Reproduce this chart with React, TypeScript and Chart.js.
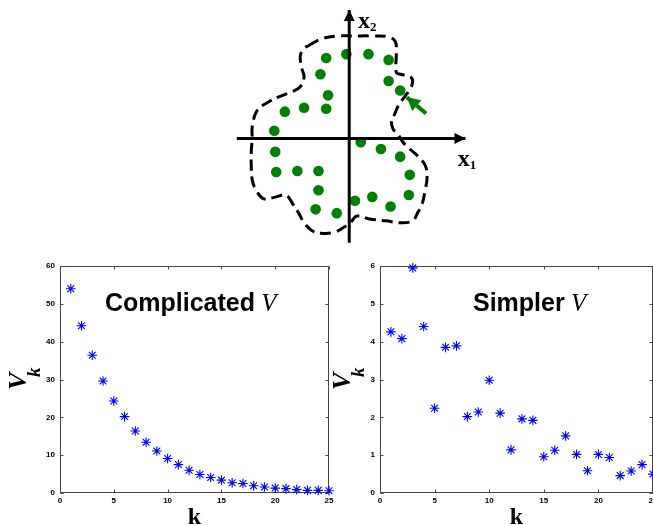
import React, { useEffect, useRef } from "react";
import { Chart, registerables } from "chart.js";

Chart.register(...registerables);

// ---------- data ----------
const kValues = [1, 2, 3, 4, 5, 6, 7, 8, 9, 10, 11, 12, 13, 14, 15, 16, 17, 18, 19, 20, 21, 22, 23, 24, 25];
const complicatedV = [54.0, 44.2, 36.4, 29.6, 24.3, 20.2, 16.4, 13.4, 11.1, 9.1, 7.5, 6.0, 4.9, 4.1, 3.4, 2.7, 2.5, 1.9, 1.6, 1.3, 1.15, 0.9, 0.7, 0.7, 0.6];
const simplerV = [4.26, 4.08, 5.95, 4.4, 2.24, 3.85, 3.89, 2.02, 2.14, 2.98, 2.11, 1.14, 1.96, 1.92, 0.96, 1.13, 1.51, 1.02, 0.59, 1.02, 0.94, 0.46, 0.58, 0.75, 0.5];
const kTicks = [0, 5, 10, 15, 20, 25];
const complicatedTicks = [0, 10, 20, 30, 40, 50, 60];
const simplerTicks = [0, 1, 2, 3, 4, 5, 6];

// top diagram (abstract x1/x2 plane)
const sampleX1 = [-2.4, -0.3, 2.0, 4.1, -3.0, 4.1, 5.3, -2.2, -6.7, -4.7, -2.4, -7.8, 1.2, 3.3, 5.3, -7.7, -7.6, -5.4, -3.2, -3.2, 6.3, 6.2, 2.4, 0.6, 4.3, -3.5, -1.3];
const sampleX2 = [8.4, 8.8, 8.8, 8.2, 6.7, 6.0, 5.0, 4.5, 2.8, 3.2, 3.1, 0.8, -0.4, -1.1, -1.9, -1.4, -3.5, -3.4, -3.4, -5.4, -3.8, -5.9, -6.1, -6.5, -7.1, -7.4, -7.8];
const boundaryX1 = [-4.2, -2.9, -1.2, 0.4, 2.4, 4.1, 4.8, 4.9, 4.9, 5.4, 6.4, 6.6, 6.3, 5.8, 5.1, 4.8, 4.4, 4.6, 4.9, 5.6, 6.3, 7.1, 7.9, 8.1, 7.9, 7.6, 7.1, 6.6, 5.4, 3.8, 2.1, 0.8, 0.1, -0.6, -1.6, -2.9, -3.9, -4.7, -5.2, -5.9, -6.6, -7.6, -8.9, -9.7, -10.1, -10.2, -10.2, -10.1, -10.1, -9.6, -8.6, -7.2, -5.9, -5.1, -4.7, -4.9, -5.1, -4.7, -4.2];
const boundaryX2 = [9.7, 10.4, 10.7, 10.7, 10.7, 10.6, 10.1, 8.9, 6.9, 6.7, 6.4, 5.9, 5.1, 4.4, 3.4, 2.7, 1.7, 0.9, 0.7, -0.4, -1.1, -1.8, -2.8, -4.1, -5.4, -6.8, -7.8, -8.6, -8.8, -8.6, -8.4, -8.1, -8.8, -9.3, -9.8, -9.9, -9.6, -8.8, -7.9, -6.8, -5.9, -6.1, -6.3, -5.4, -4.3, -2.8, -1.4, 0.0, 1.2, 2.9, 3.7, 4.4, 4.9, 5.4, 6.4, 7.2, 8.6, 9.4, 9.7];
const axisX1 = [-11.7, 12.1];
const axisX2 = [-10.9, 13.4];
const pointerFrom = [8.0, 2.6];
const pointerTo = [6.0, 4.3];
const axisLabels = [
  { main: "x", sub: "2", x1: 0.9, x2: 11.5 },
  { main: "x", sub: "1", x1: 11.3, x2: -2.9 },
];

const SANS = '"Liberation Sans", Arial, sans-serif';
const SERIF = '"Liberation Serif", "Times New Roman", serif';

// ---------- plugins ----------
const panelPlugin = {
  id: "panel",
  beforeDatasetsDraw(chart: any) {
    const { ctx, chartArea: a, scales } = chart;
    ctx.save();
    ctx.strokeStyle = "#444";
    ctx.lineWidth = 1;
    const L = Math.round(a.left) + 0.5;
    const R = Math.round(a.right) - 0.5;
    const T = Math.round(a.top) + 0.5;
    const B = Math.round(a.bottom) - 0.5;
    ctx.strokeRect(L, T, R - L, B - T);
    ctx.beginPath();
    scales.x.ticks.forEach((t: any) => {
      const x = Math.round(scales.x.getPixelForValue(t.value)) + 0.5;
      ctx.moveTo(x, B); ctx.lineTo(x, B - 3);
      ctx.moveTo(x, T); ctx.lineTo(x, T + 3);
    });
    scales.y.ticks.forEach((t: any) => {
      const y = Math.round(scales.y.getPixelForValue(t.value)) + 0.5;
      ctx.moveTo(L, y); ctx.lineTo(L + 3, y);
      ctx.moveTo(R, y); ctx.lineTo(R - 3, y);
    });
    ctx.stroke();
    ctx.restore();
  },
  afterDraw(chart: any, _a: any, opts: any) {
    const { ctx, chartArea: a } = chart;
    ctx.save();
    ctx.fillStyle = "#000";
    ctx.textBaseline = "alphabetic";
    ctx.textAlign = "left";
    // title inside the axes
    let x = a.left + opts.titleDx;
    const y = a.top + opts.titleDy;
    ctx.font = `bold 25px ${SANS}`;
    ctx.fillText(opts.titleText, x, y);
    x += ctx.measureText(opts.titleText).width;
    ctx.font = `italic 25px ${SERIF}`;
    ctx.fillText(" V", x, y);
    // y label V_k (rotated)
    ctx.save();
    ctx.translate(a.left + opts.ylabelDx, a.top + 124);
    ctx.rotate(-Math.PI / 2);
    ctx.font = `bold italic 26px ${SERIF}`;
    ctx.fillText("V", 0, 0);
    ctx.font = `bold italic 19px ${SERIF}`;
    ctx.fillText("k", 13, 14);
    ctx.restore();
    // x label
    ctx.font = `bold 24px ${SERIF}`;
    ctx.textAlign = "center";
    ctx.fillText("k", (a.left + a.right) / 2, a.bottom + 31);
    ctx.restore();
  },
};

const diagramPlugin = {
  id: "diagram",
  afterDatasetsDraw(chart: any) {
    const { ctx, scales } = chart;
    ctx.save();
    chart.data.datasets.forEach((ds: any, i: number) => {
      if (!ds.arrowHead) return;
      const pts = chart.getDatasetMeta(i).data;
      const p1 = pts[pts.length - 2];
      const p2 = pts[pts.length - 1];
      const ang = Math.atan2(p2.y - p1.y, p2.x - p1.x);
      const { len, half } = ds.arrowHead;
      ctx.fillStyle = ds.borderColor;
      ctx.beginPath();
      ctx.moveTo(p2.x, p2.y);
      ctx.lineTo(p2.x - len * Math.cos(ang) + half * Math.sin(ang), p2.y - len * Math.sin(ang) - half * Math.cos(ang));
      ctx.lineTo(p2.x - len * Math.cos(ang) - half * Math.sin(ang), p2.y - len * Math.sin(ang) + half * Math.cos(ang));
      ctx.closePath();
      ctx.fill();
    });
    ctx.fillStyle = "#000";
    ctx.textBaseline = "alphabetic";
    ctx.textAlign = "left";
    axisLabels.forEach((l) => {
      const px = scales.x.getPixelForValue(l.x1);
      const py = scales.y.getPixelForValue(l.x2);
      ctx.font = `bold 24px ${SERIF}`;
      ctx.fillText(l.main, px, py);
      const w = ctx.measureText(l.main).width;
      ctx.font = `bold 13px ${SERIF}`;
      ctx.fillText(l.sub, px + w, py + 3);
    });
    ctx.restore();
  },
};

// ---------- components ----------
function Diagram() {
  const ref = useRef<HTMLCanvasElement | null>(null);
  useEffect(() => {
    const samples = sampleX1.map((v, i) => ({ x: v, y: sampleX2[i] }));
    const boundary = boundaryX1.map((v, i) => ({ x: v, y: boundaryX2[i] }));
    const chart = new Chart(ref.current!, {
      type: "scatter",
      data: {
        datasets: [
          {
            label: "boundary",
            data: boundary,
            showLine: true,
            borderColor: "#000",
            borderWidth: 3,
            borderDash: [11, 6],
            pointRadius: 0,
            tension: 0.4,
            fill: false,
          } as any,
          {
            label: "x1 axis",
            data: [{ x: axisX1[0], y: 0 }, { x: axisX1[1], y: 0 }],
            showLine: true,
            borderColor: "#000",
            borderWidth: 3,
            pointRadius: 0,
            arrowHead: { len: 11, half: 5.5 },
          } as any,
          {
            label: "x2 axis",
            data: [{ x: 0, y: axisX2[0] }, { x: 0, y: axisX2[1] }],
            showLine: true,
            borderColor: "#000",
            borderWidth: 3,
            pointRadius: 0,
            arrowHead: { len: 11, half: 5.5 },
          } as any,
          {
            label: "pointer",
            data: [{ x: pointerFrom[0], y: pointerFrom[1] }, { x: pointerTo[0], y: pointerTo[1] }],
            showLine: true,
            borderColor: "#008000",
            borderWidth: 4,
            pointRadius: 0,
            arrowHead: { len: 13, half: 7 },
          } as any,
          {
            label: "samples",
            data: samples,
            showLine: false,
            pointRadius: 5.3,
            pointBackgroundColor: "#008000",
            pointBorderWidth: 0,
            borderColor: "#008000",
          } as any,
        ],
      },
      options: {
        animation: false,
        responsive: false,
        devicePixelRatio: 1,
        layout: { padding: 0 },
        plugins: { legend: { display: false }, tooltip: { enabled: false } },
        scales: {
          x: { type: "linear", display: false, min: -12.9, max: 14.1 },
          y: { type: "linear", display: false, min: -11.3, max: 13.9 },
        },
      },
      plugins: [diagramPlugin],
    } as any);
    return () => chart.destroy();
  }, []);
  return (
    <canvas
      ref={ref}
      width={270}
      height={252}
      style={{ position: "absolute", left: 220, top: 0, width: 270, height: 252 }}
    />
  );
}

type PanelProps = {
  left: number;
  areaLeft: number;
  areaWidth: number;
  values: number[];
  yTicks: number[];
  title: string;
  titleDx: number;
  ylabelDx: number;
};

function Panel(p: PanelProps) {
  const ref = useRef<HTMLCanvasElement | null>(null);
  const W = 345;
  const H = 300;
  const areaTop = 16;
  const areaBottom = 243;
  const areaRight = p.areaLeft + p.areaWidth;
  useEffect(() => {
    const tickFont = { family: SANS, size: 8, weight: "bold" as const };
    const chart = new Chart(ref.current!, {
      type: "scatter",
      data: {
        datasets: [
          {
            label: "V",
            data: kValues.map((k, i) => ({ x: k, y: p.values[i] })),
            pointStyle: "star",
            pointRadius: 4.8,
            borderColor: "#0000ff",
            borderWidth: 1.1,
            backgroundColor: "#0000ff",
            clip: false,
          } as any,
        ],
      },
      options: {
        animation: false,
        responsive: false,
        devicePixelRatio: 1,
        layout: { padding: { left: 0, top: areaTop, right: W - areaRight, bottom: 0 } },
        plugins: {
          legend: { display: false },
          tooltip: { enabled: false },
          panel: { titleText: p.title, titleDx: p.titleDx, titleDy: 45, ylabelDx: p.ylabelDx },
        } as any,
        scales: {
          x: {
            type: "linear",
            min: kTicks[0],
            max: kTicks[kTicks.length - 1],
            afterBuildTicks: (s: any) => { s.ticks = kTicks.map((v) => ({ value: v })); },
            afterFit: (s: any) => { s.height = H - areaBottom; },
            ticks: { font: tickFont, color: "#000", padding: 3, maxRotation: 0, autoSkip: false },
            grid: { display: false, drawTicks: false },
            border: { display: false },
          },
          y: {
            type: "linear",
            min: p.yTicks[0],
            max: p.yTicks[p.yTicks.length - 1],
            afterBuildTicks: (s: any) => { s.ticks = p.yTicks.map((v) => ({ value: v })); },
            afterFit: (s: any) => { s.width = p.areaLeft; },
            ticks: { font: tickFont, color: "#000", padding: 5, autoSkip: false },
            grid: { display: false, drawTicks: false },
            border: { display: false },
          },
        } as any,
      },
      plugins: [panelPlugin],
    } as any);
    return () => chart.destroy();
  }, []);
  return (
    <canvas
      ref={ref}
      width={W}
      height={H}
      style={{ position: "absolute", left: p.left, top: 250, width: W, height: H }}
    />
  );
}

export default function App() {
  return (
    <div
      style={{
        position: "absolute",
        left: 0,
        top: 0,
        width: 653,
        height: 525,
        overflow: "hidden",
        background: "#fff",
      }}
    >
      <Diagram />
      <Panel left={0} areaLeft={60} areaWidth={269} values={complicatedV} yTicks={complicatedTicks} title="Complicated" titleDx={45} ylabelDx={-34} />
      <Panel left={323} areaLeft={57} areaWidth={273} values={simplerV} yTicks={simplerTicks} title="Simpler" titleDx={93} ylabelDx={-30} />
    </div>
  );
}
